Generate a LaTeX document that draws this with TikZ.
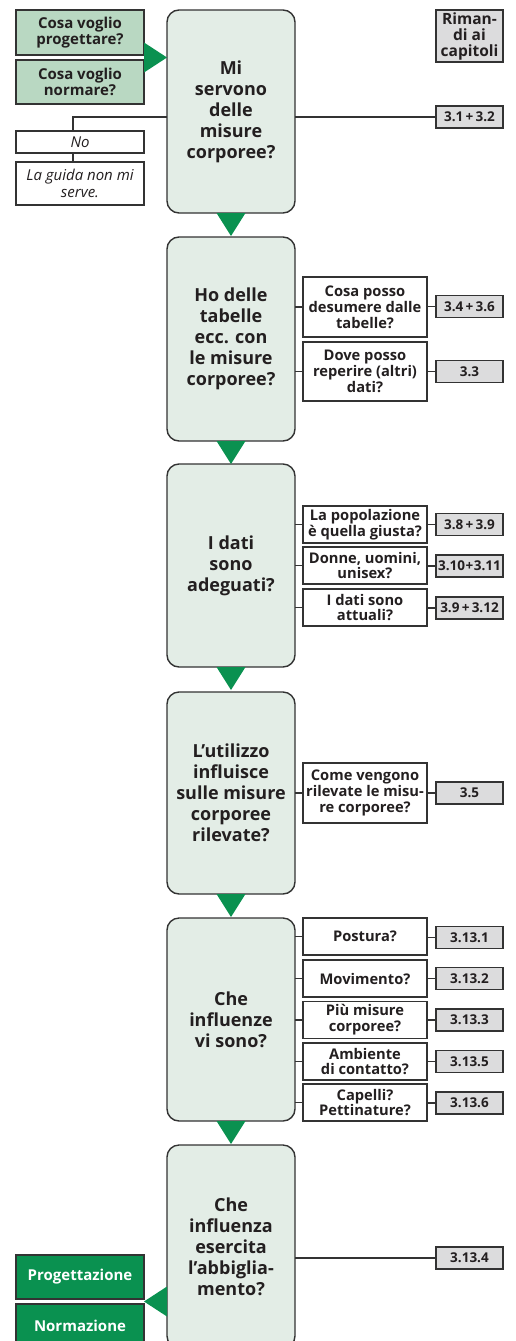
\documentclass[tikz,border=0pt]{standalone}
\usepackage{fontspec}
\setmainfont{Open Sans}
\usetikzlibrary{calc}
\definecolor{txt}{HTML}{231F20}
\definecolor{mainfill}{HTML}{E3EDE6}
\definecolor{lgreen}{HTML}{B9D8C2}
\definecolor{dgreen}{HTML}{0A9150}
\definecolor{refgray}{HTML}{DCDCDD}
\definecolor{edge}{HTML}{333333}
\begin{document}
\begin{tikzpicture}[x=1pt,y=-1pt,
  every node/.style={outer sep=0pt, inner sep=0.5pt, text=txt, align=center},
  mainbox/.style={draw=edge, line width=1.4pt, fill=mainfill, rounded corners=12pt, minimum width=128pt, font=\fontsize{18}{21}\selectfont\bfseries},
  subbox/.style={draw=edge, line width=1.2pt, fill=white, minimum width=124pt, font=\fontsize{14.7}{15.8}\selectfont\bfseries},
  refbox/.style={draw=edge, line width=1.2pt, fill=refgray, minimum width=67pt, minimum height=22pt, font=\fontsize{13.5}{16}\selectfont\bfseries},
  lbox/.style={draw=edge, line width=1.2pt, fill=lgreen, minimum width=128pt, font=\fontsize{15}{16}\selectfont\bfseries},
  dbox/.style={draw=edge, line width=1.2pt, fill=dgreen, text=white, minimum width=128pt, minimum height=44pt, font=\fontsize{15}{16}\selectfont\bfseries},
  wbox/.style={draw=edge, line width=1.2pt, fill=white, minimum width=128pt, font=\fontsize{15}{16.5}\selectfont\itshape},
  conn/.style={draw=edge, line width=1.1pt},
  tri/.style={fill=dgreen}]
\useasboundingbox (0,0) rectangle (515,1341);
\clip (0,0) rectangle (515,1341);

% main boxes
\node[mainbox, minimum height=203pt] (b1) at (231,111.5) {Mi\\servono\\delle\\misure\\corporee?};
\node[mainbox, minimum height=204pt] (b2) at (231,339) {Ho delle\\tabelle\\ecc. con\\le misure\\corporee?};
\node[mainbox, minimum height=203pt] (b3) at (231,565.5) {I dati\\sono\\adeguati?};
\node[mainbox, minimum height=202pt] (b4) at (231,793) {L’utilizzo\\influisce\\sulle misure\\corporee\\rilevate?};
\node[mainbox, minimum height=203pt] (b5) at (231,1019.5) {Che\\influenze\\vi sono?};
\node[mainbox, minimum height=203pt] (b6) at (231,1246.5) {Che\\influenza\\esercita\\l’abbiglia-\\mento?};

% down triangles
\foreach \b in {b1,b2,b3,b4,b5}{
  \fill[tri] ($(\b.south)+(-14.5,0)$) -- ($(\b.south)+(14.5,0)$) -- ($(\b.south)+(0,23)$) -- cycle;
}

% top-left
\node[lbox, minimum height=45pt] (lg1) at (80,32.5) {Cosa voglio\\progettare?};
\node[lbox, minimum height=44pt] (lg2) at (80,82) {Cosa voglio\\normare?};
\coordinate (m1) at ($(lg1.south east)!0.5!(lg2.north east)$);
\fill[tri] ($(m1)+(0,-15)$) -- (b1.west |- m1) -- ($(m1)+(0,15)$) -- cycle;

\node[wbox, minimum height=22pt] (no) at (80,142) {No};
\node[wbox, minimum height=43pt] (guida) at (80,183.5) {La guida non mi\\serve.};

% refs
\node[refbox, minimum height=52pt, font=\fontsize{15.5}{16}\selectfont\bfseries] (rim) at (469.5,36) {Riman-\\di ai\\capitoli};
\node[refbox] (r1) at (469.5,117) {3.1\,+\,3.2};
\draw[conn] (r1.west) -- (b1.east |- r1.west);
\coordinate (nk) at ($(no.north)+(-7,0)$);
\draw[conn] (nk) |- (b1.west |- r1.west);
\draw[conn] ($(no.south)+(-7,0)$) -- ($(guida.north)+(-7,0)$);

% box 2
\node[subbox, minimum height=60pt] (s21) at (365,307) {Cosa posso\\desumere dalle\\tabelle?};
\node[subbox, minimum height=59pt] (s22) at (365,371.5) {Dove posso\\reperire (altri)\\dati?};
\node[refbox] (r21) at (469.5,306.5) {3.4\,+\,3.6};
\node[refbox] (r22) at (469.5,371.5) {3.3};

% box 3
\node[subbox, minimum height=37pt] (s31) at (365,524.5) {La popolazione\\è quella giusta?};
\node[subbox, minimum height=37pt] (s32) at (365,565.5) {Donne, uomini,\\unisex?};
\node[subbox, minimum height=37pt] (s33) at (365,607.5) {I dati sono\\attuali?};
\node[refbox] (r31) at (469.5,524.5) {3.8\,+\,3.9};
\node[refbox] (r32) at (469.5,566) {3.10\kern0.5pt+\kern0.5pt3.11};
\node[refbox] (r33) at (469.5,608) {3.9\,+\,3.12};

% box 4
\node[subbox, minimum height=60pt] (s41) at (365,793) {Come vengono\\rilevate le misu-\\re corporee?};
\node[refbox] (r41) at (469.5,793) {3.5};

% box 5
\node[subbox, minimum height=37pt] (s51) at (365,936.5) {Postura?};
\node[subbox, minimum height=37pt] (s52) at (365,978.5) {Movimento?};
\node[subbox, minimum height=37pt] (s53) at (365,1020) {Più misure\\corporee?};
\node[subbox, minimum height=37pt] (s54) at (365,1061.5) {Ambiente\\di contatto?};
\node[subbox, minimum height=37pt] (s55) at (365,1102.5) {Capelli?\\Pettinature?};
\node[refbox] (r51) at (469.5,937.5) {3.13.1};
\node[refbox] (r52) at (469.5,978.5) {3.13.2};
\node[refbox] (r53) at (469.5,1020) {3.13.3};
\node[refbox] (r54) at (469.5,1061.5) {3.13.5};
\node[refbox] (r55) at (469.5,1103) {3.13.6};

% connectors sub boxes
\foreach \s/\r/\b in {s21/r21/b2,s22/r22/b2,s31/r31/b3,s32/r32/b3,s33/r33/b3,s41/r41/b4,s51/r51/b5,s52/r52/b5,s53/r53/b5,s54/r54/b5,s55/r55/b5}{
  \draw[conn] (\s.west) -- (\b.east |- \s.west);
  \draw[conn] (\r.west) -- (\s.east |- \r.west);
}

% box 6
\node[refbox] (r61) at (469.5,1258) {3.13.4};
\draw[conn] (r61.west) -- (b6.east |- r61.west);
\node[dbox] (prog) at (80,1277) {Progettazione};
\node[dbox] (norm) at (80,1326) {Normazione};
\coordinate (m2) at ($(prog.south east)!0.5!(norm.north east)$);
\fill[tri] (m2) -- ($(b6.west |- m2)+(0,-15)$) -- ($(b6.west |- m2)+(0,15)$) -- cycle;
\end{tikzpicture}
\end{document}
